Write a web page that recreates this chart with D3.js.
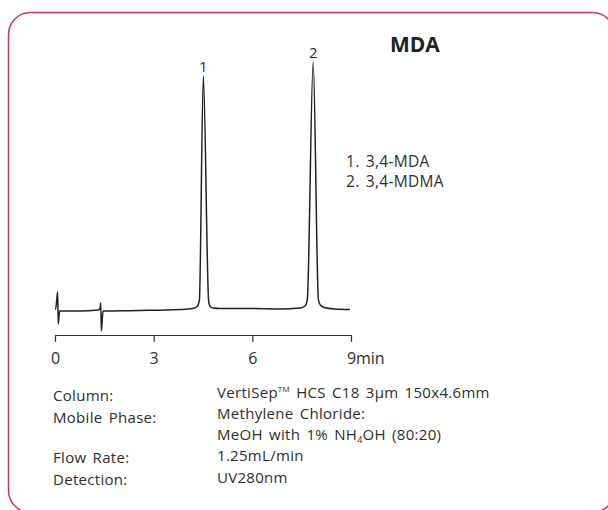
<!DOCTYPE html>
<html>
<meta charset="utf-8">
<script src="https://d3js.org/d3.v7.min.js"></script>
<style>
body { margin: 0; background: #fff; overflow: hidden; }
svg { display: block; }
text { font-family: "Open Sans", sans-serif; fill: #2e2e2e; }
.body-text { letter-spacing: 0.3px; word-spacing: 2px; }
</style>
<body>
<svg id="chart" width="608" height="510"></svg>
<script>
// chromatogram trace (time in min, detector signal)
const traceTime   = [0, 0.02, 0.08, 0.10, 0.14, 0.76, 1.31, 1.37, 1.39, 1.41, 1.46, 2.58, 3.80, 4.19, 4.32, 4.39, 4.51, 4.67, 4.71, 4.80, 5.02, 5.93, 6.84, 7.45, 7.60, 7.67, 7.85, 8.01, 8.07, 8.18, 8.51, 8.97];
const traceSignal = [0.4, 0.4, 7.3, -5.6, -0.4, -0.4, 0, 0.6, 2.8, -8.5, -0.4, -0.2, 0.2, 0.6, 1.4, 4.0, 94.4, 4.0, 1.6, 0.8, 0.6, 0.6, 0.4, 0.8, 1.6, 4.0, 100, 4.0, 2.0, 1.0, 0.4, 0.2];

const tickValues = [0, 3, 6, 9];
const peakIds    = ["1", "2"];
const peakTimes  = [4.51, 7.85];
const peakHeights = [94.4, 100];
const compounds  = ["3,4-MDA", "3,4-MDMA"];

const conditionLabels = ["Column:", "Mobile Phase:", "Flow Rate:", "Detection:"];

const svg = d3.select("#chart");

// frame (right side runs off the page)
svg.append("rect")
	.attr("x", 8.5).attr("y", 12.5)
	.attr("width", 606).attr("height", 500)
	.attr("rx", 22).attr("ry", 22)
	.attr("fill", "none")
	.attr("stroke", "#cc3366")
	.attr("stroke-width", 1.5);

const x = d3.scaleLinear().domain([0, 9]).range([55, 351]);
const y = d3.scaleLinear().domain([0, 100]).range([310, 62]);

// time axis
const axis = svg.append("g")
	.attr("transform", "translate(0,335)")
	.call(d3.axisBottom(x).tickValues(tickValues).tickSize(7).tickPadding(7).tickSizeOuter(0));
axis.select(".domain").attr("stroke", "#333").attr("stroke-width", 1.2);
axis.selectAll(".tick line").attr("stroke", "#333").attr("stroke-width", 1.2);
axis.selectAll(".tick text")
	.attr("y", 29).attr("dy", null)
	.style("font-size", "16px").style("fill", "#2e2e2e");
axis.append("text")
	.attr("x", x(9) + 5).attr("y", 29)
	.attr("text-anchor", "start")
	.style("font-size", "16px")
	.text("min");

// trace
const points = traceTime.map((t, i) => [t, traceSignal[i]]);
const line = d3.line()
	.x(d => x(d[0]))
	.y(d => y(d[1]))
	.curve(d3.curveMonotoneX);

svg.append("path")
	.datum(points)
	.attr("d", line)
	.attr("fill", "none")
	.attr("stroke", "#222")
	.attr("stroke-width", 1.5)
	.attr("stroke-linejoin", "round");

// peak numbers
svg.selectAll(".peak-label")
	.data(peakIds)
	.join("text")
	.attr("class", "peak-label")
	.attr("x", (d, i) => x(peakTimes[i]))
	.attr("y", (d, i) => y(peakHeights[i]) - 4)
	.attr("text-anchor", "middle")
	.attr("font-size", 15)
	.text(d => d);

// title
svg.append("text")
	.attr("x", 390).attr("y", 52)
	.attr("font-size", 21)
	.attr("font-weight", "bold")
	.style("fill", "#222")
	.text("MDA");

// compound legend
svg.selectAll(".legend")
	.data(compounds)
	.join("text")
	.attr("class", "legend body-text")
	.attr("x", 346)
	.attr("y", (d, i) => 167 + i * 20)
	.attr("font-size", 15.5)
	.text((d, i) => peakIds[i] + ". " + d);

// conditions
const labelY = [401, 423, 463, 485];
svg.selectAll(".cond")
	.data(conditionLabels)
	.join("text")
	.attr("class", "cond body-text")
	.attr("x", 53)
	.attr("y", (d, i) => labelY[i])
	.attr("font-size", 15)
	.text(d => d);

const vx = 217;
const col = svg.append("g").attr("font-size", 15);
const t1 = col.append("text").attr("class", "body-text").attr("x", vx).attr("y", 398);
t1.append("tspan").text("VertiSep");
t1.append("tspan").attr("font-size", 8).attr("dy", -6).text("TM");
t1.append("tspan").attr("dy", 6).text(" HCS C18 3\u00b5m 150x4.6mm");
col.append("text").attr("class", "body-text").attr("x", vx).attr("y", 419).text("Methylene Chloride:");
const t3 = col.append("text").attr("class", "body-text").attr("x", vx).attr("y", 440);
t3.append("tspan").text("MeOH with 1% NH");
t3.append("tspan").attr("font-size", 9).attr("dy", 3).text("4");
t3.append("tspan").attr("dy", -3).text("OH (80:20)");
col.append("text").attr("class", "body-text").attr("x", vx).attr("y", 461).text("1.25mL/min");
col.append("text").attr("class", "body-text").attr("x", vx).attr("y", 483).text("UV280nm");
</script>
</body>
</html>
